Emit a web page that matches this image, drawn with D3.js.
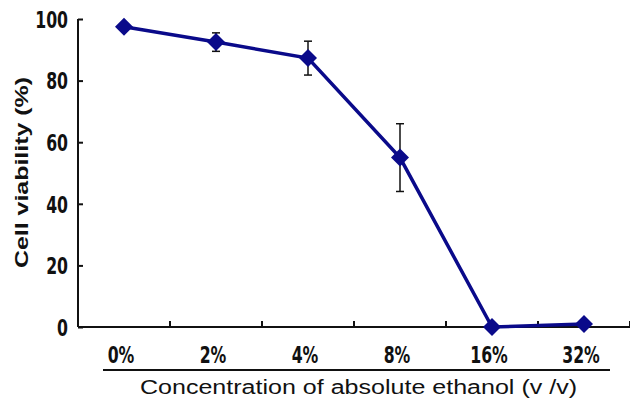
<!DOCTYPE html>
<html>
<head>
<meta charset="utf-8">
<script src="https://cdn.jsdelivr.net/npm/d3@7"></script>
<style>
  body { margin: 0; background: #fff; }
  svg { display: block; }
</style>
</head>
<body>
<div id="chart"></div>
<script>
const width = 630, height = 400

const concentrations = ['0%', '2%', '4%', '8%', '16%', '32%']
const viability = [97.5, 92.5, 87.3, 55, 0, 1]
const errors = [0, 3, 5.5, 11, 0, 0]
const yTicks = [0, 20, 40, 60, 80, 100]

const margin = { top: 19, right: 0, bottom: 73, left: 78 }

const tickFont = "'DejaVu Sans Condensed', 'DejaVu Sans', sans-serif"
const squeeze = 0.76   // tick labels are narrow in the original
const lineColor = "#0a0a8a"

const svg = d3.select("#chart")
    .append("svg")
    .attr("width", width)
    .attr("height", height)

const x = d3.scaleBand()
    .domain(concentrations)
    .range([margin.left, width - margin.right])

const y = d3.scaleLinear()
    .domain([0, 100])
    .range([height - margin.bottom, margin.top])

// y axis
const yAxis = svg.append("g")
    .attr("transform", `translate(${margin.left},0)`)
    .call(d3.axisRight(y).tickValues(yTicks).tickSize(5).tickFormat(d => d))
yAxis.select(".domain").attr("stroke", "#111").attr("stroke-width", 2)
    .attr("d", `M0,${y(100)}V${y(0)}`)
yAxis.selectAll(".tick line").attr("stroke", "#111").attr("stroke-width", 2)
yAxis.selectAll(".tick text")
    .attr("x", -10 / squeeze)
    .attr("transform", `scale(${squeeze},1)`)
    .attr("text-anchor", "end")
    .attr("dy", "0.36em")
    .style("font-family", tickFont)
    .style("font-weight", "bold")
    .style("font-size", "23px")
    .attr("fill", "#111")

// x axis with ticks at band boundaries
const xAxis = svg.append("g")
    .attr("transform", `translate(0,${y(0)})`)
xAxis.append("line")
    .attr("x1", margin.left).attr("x2", width - margin.right)
    .attr("stroke", "#111").attr("stroke-width", 2)
xAxis.selectAll(".xtick")
    .data(concentrations)
    .join("line")
    .attr("class", "xtick")
    .attr("x1", d => x(d) + x.bandwidth())
    .attr("x2", d => x(d) + x.bandwidth())
    .attr("y1", 0).attr("y2", -6)
    .attr("stroke", "#111").attr("stroke-width", 2)
xAxis.selectAll(".xlabel")
    .data(concentrations)
    .join("text")
    .attr("class", "xlabel")
    .attr("transform", d => `translate(${x(d) + x.bandwidth() / 2 - 3},36) scale(${squeeze},1)`)
    .attr("text-anchor", "middle")
    .style("font-family", tickFont)
    .style("font-weight", "bold")
    .style("font-size", "23px")
    .attr("fill", "#111")
    .text(d => d)

// underline beneath category labels
svg.append("line")
    .attr("x1", 103).attr("x2", 610)
    .attr("y1", y(0) + 43).attr("y2", y(0) + 43)
    .attr("stroke", "#111").attr("stroke-width", 2)

// axis titles
svg.append("text")
    .attr("x", 140)
    .attr("y", 394)
    .attr("textLength", 437)
    .attr("lengthAdjust", "spacingAndGlyphs")
    .style("font-family", "'Liberation Sans', Arial, sans-serif")
    .style("font-size", "20px")
    .attr("fill", "#111")
    .text("Concentration of absolute ethanol (v /v)")

svg.append("text")
    .attr("transform", `translate(28,268) rotate(-90)`)
    .attr("textLength", 191)
    .attr("lengthAdjust", "spacingAndGlyphs")
    .style("font-family", "'Liberation Sans', Arial, sans-serif")
    .style("font-weight", "bold")
    .style("font-size", "19px")
    .attr("fill", "#111")
    .text("Cell viability (%)")

const pts = concentrations.map((c, i) => ({ c, v: viability[i], e: errors[i] }))
const cx = d => x(d.c) + x.bandwidth() / 2

// error bars
const eb = svg.append("g")
    .selectAll("g")
    .data(pts.filter(d => d.e > 0))
    .join("g")
    .attr("stroke", "#111")
    .attr("stroke-width", 1.5)
eb.append("line")
    .attr("x1", cx).attr("x2", cx)
    .attr("y1", d => y(d.v + d.e)).attr("y2", d => y(d.v - d.e))
eb.append("line")
    .attr("x1", d => cx(d) - 4).attr("x2", d => cx(d) + 4)
    .attr("y1", d => y(d.v + d.e)).attr("y2", d => y(d.v + d.e))
eb.append("line")
    .attr("x1", d => cx(d) - 4).attr("x2", d => cx(d) + 4)
    .attr("y1", d => y(d.v - d.e)).attr("y2", d => y(d.v - d.e))

// line
svg.append("path")
    .datum(pts)
    .attr("fill", "none")
    .attr("stroke", lineColor)
    .attr("stroke-width", 3.5)
    .attr("d", d3.line().x(cx).y(d => y(d.v)))

// diamond markers
svg.append("g")
    .selectAll("path")
    .data(pts)
    .join("path")
    .attr("transform", d => `translate(${cx(d)},${y(d.v)})`)
    .attr("d", "M0,-9L9,0L0,9L-9,0Z")
    .attr("fill", lineColor)
</script>
</body>
</html>
